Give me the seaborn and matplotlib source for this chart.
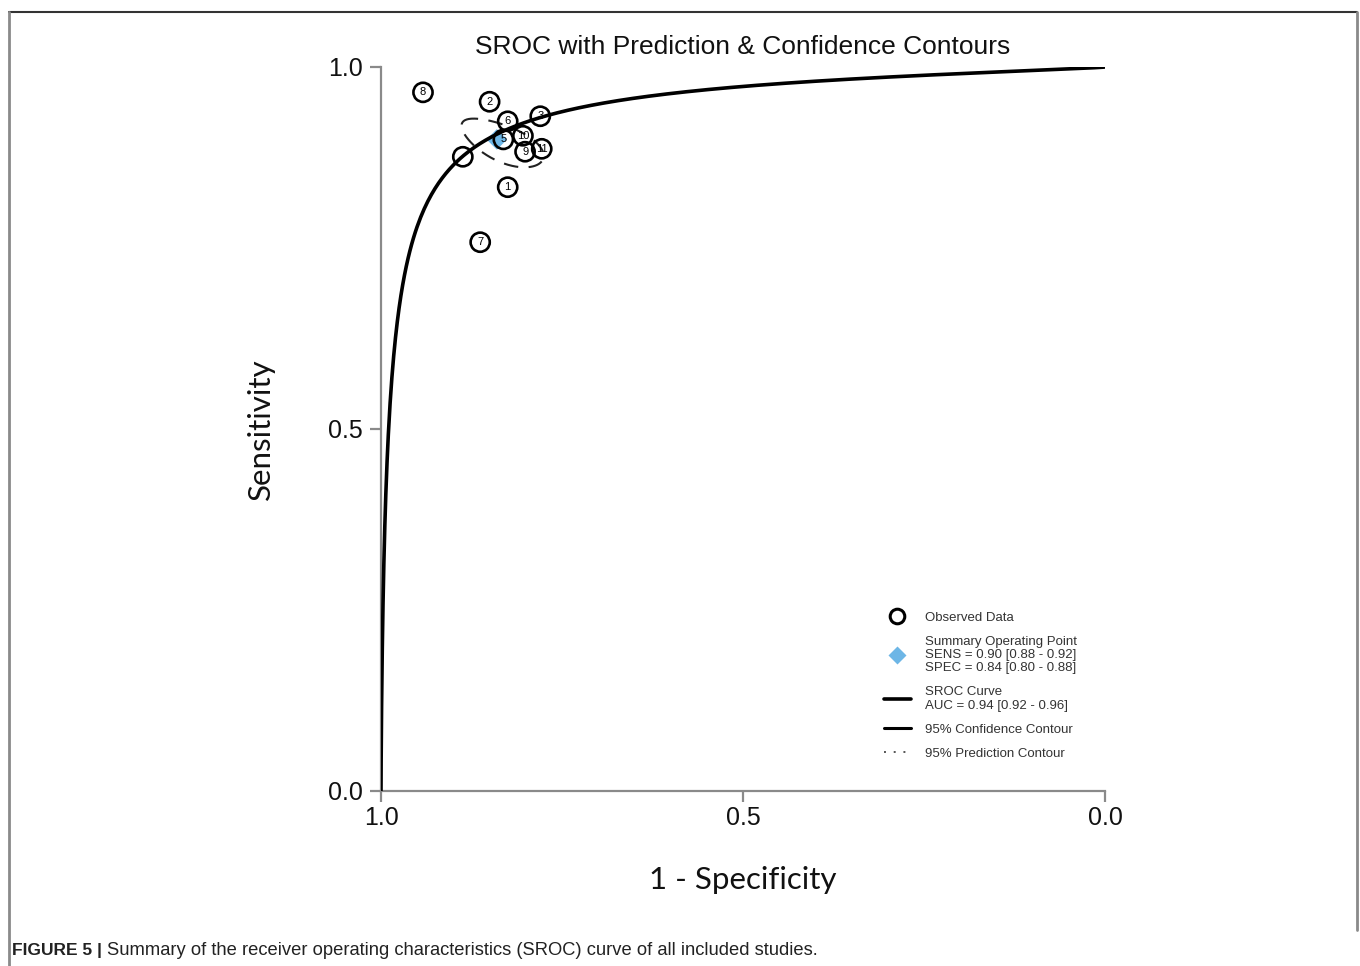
import numpy as np
import pandas as pd
import matplotlib
matplotlib.use("Agg")
import matplotlib.pyplot as plt
from matplotlib.lines import Line2D
import seaborn as sns

# Observed studies: specificity and sensitivity
study_ids = ["1", "2", "3", "", "5", "6", "7", "8", "9", "10", "11"]
specificity = [0.825, 0.850, 0.780, 0.887, 0.831, 0.825, 0.863, 0.942, 0.801, 0.804, 0.778]
sensitivity = [0.834, 0.952, 0.932, 0.876, 0.900, 0.925, 0.758, 0.965, 0.883, 0.905, 0.887]

# Summary operating point
summary_sens = 0.90
summary_spec = 0.84

# HSROC curve: logit(sens) = alpha + beta * logit(1 - spec)
sroc_alpha = 3.59
sroc_beta = 0.79

# 95% confidence region (logit scale half-widths and correlation)
conf_half_sens = 0.37
conf_half_spec = 0.42
conf_rho = 0.62

tick_values = [1.0, 0.5, 0.0]


def logit(p):
    return np.log(p / (1 - p))


def expit(z):
    return 1 / (1 + np.exp(-z))


sns.set_theme(style="white")
plt.rcParams["font.family"] = ["Liberation Sans", "DejaVu Sans"]

fig = plt.figure(figsize=(13.6, 9.66), dpi=100)
W, H = 1360, 966
ax = fig.add_axes([381 / W, 1 - 791 / H, 724 / W, 724 / H])

# SROC curve
fpr = np.concatenate([np.logspace(-7, -2, 200), np.linspace(0.0101, 0.999999, 400)])
curve = pd.DataFrame({"spec": 1 - fpr,
                      "sens": expit(sroc_alpha + sroc_beta * logit(fpr))})
curve = pd.concat([pd.DataFrame({"spec": [1.0], "sens": [0.0]}), curve,
                   pd.DataFrame({"spec": [0.0], "sens": [1.0]})], ignore_index=True)

# Confidence contour
t = np.linspace(0, 2 * np.pi, 240)
phi = np.arccos(conf_rho)
ell = pd.DataFrame({
    "spec": expit(logit(summary_spec) + conf_half_spec * np.cos(t - phi)),
    "sens": expit(logit(summary_sens) + conf_half_sens * np.cos(t)),
})
ax.plot(ell["spec"], ell["sens"], color="#222222", lw=1.5,
        dashes=(7, 5), zorder=2)

sns.scatterplot(x=[summary_spec], y=[summary_sens], marker="D", s=110,
                color="#6db6e6", edgecolor="none", ax=ax, zorder=3)

sns.lineplot(data=curve, x="spec", y="sens", sort=False, color="black",
             lw=2.6, ax=ax, zorder=4)

obs = pd.DataFrame({"spec": specificity, "sens": sensitivity, "id": study_ids})
sns.scatterplot(data=obs, x="spec", y="sens", s=190, facecolor="none",
                edgecolor="black", linewidth=1.9, ax=ax, zorder=5, clip_on=False)
for _, r in obs.iterrows():
    ax.text(r["spec"], r["sens"], r["id"], ha="center", va="center",
            fontsize=8, color="black", zorder=6)

ax.set_xlim(1.0, 0.0)
ax.set_ylim(0.0, 1.0)
ax.margins(0)
ax.set_xticks(tick_values)
ax.set_yticks(tick_values)
ax.set_xticklabels([f"{v:.1f}" for v in tick_values], fontsize=18)
ax.set_yticklabels([f"{v:.1f}" for v in tick_values], fontsize=18)
ax.tick_params(axis="both", length=8, width=1.6, color="#8a8a8a",
               direction="out", bottom=True, left=True, labelcolor="#111111")
ax.tick_params(axis="x", pad=3)
ax.tick_params(axis="y", pad=5)
for side in ["top", "right"]:
    ax.spines[side].set_visible(False)
for side in ["left", "bottom"]:
    ax.spines[side].set_color("#8a8a8a")
    ax.spines[side].set_linewidth(1.6)

ax.set_xlabel("1 - Specificity", fontsize=22.5, family=["Lato", "DejaVu Sans"],
              color="#111111")
ax.set_ylabel("Sensitivity", fontsize=22.5, family=["Lato", "DejaVu Sans"],
              color="#111111")
ax.xaxis.set_label_coords(0.5, -0.103)
ax.yaxis.set_label_coords(-0.147, 0.5)

ax.set_title("SROC with Prediction & Confidence Contours", fontsize=19,
             color="#111111", pad=9)

# Legend
handles = [
    Line2D([], [], ls="none", marker="o", ms=10.5, mfc="none", mec="black", mew=2.2),
    Line2D([], [], ls="none", marker="D", ms=9, mfc="#6db6e6", mec="none"),
    Line2D([], [], color="black", lw=2.6),
    Line2D([], [], color="black", lw=2.2),
    Line2D([], [], color="#555555", lw=1.4, ls=(0, (1, 4))),
]
labels = [
    "Observed Data",
    "Summary Operating Point\nSENS = 0.90 [0.88 - 0.92]\nSPEC = 0.84 [0.80 - 0.88]",
    "SROC Curve\nAUC = 0.94 [0.92 - 0.96]",
    "95% Confidence Contour",
    "95% Prediction Contour",
]
leg = ax.legend(handles, labels, loc="upper left",
                bbox_to_anchor=(877 / W, 1 - 605 / H),
                bbox_transform=fig.transFigure, frameon=False,
                fontsize=9.5, handlelength=2.1, handletextpad=1.05,
                labelspacing=0.9, borderpad=0)
for txt in leg.get_texts():
    txt.set_color("#333333")
    txt.set_linespacing(1.15)

# Figure frame
fig.add_artist(Line2D([9 / W, 1357 / W], [1 - 12 / H, 1 - 12 / H],
                      transform=fig.transFigure, color="#333333", lw=1.5))
fig.add_artist(Line2D([9 / W, 9 / W], [0, 1 - 12 / H],
                      transform=fig.transFigure, color="#8a8a8a", lw=2))
fig.add_artist(Line2D([1357 / W, 1357 / W], [1 - 930 / H, 1 - 12 / H],
                      transform=fig.transFigure, color="#8a8a8a", lw=2))

# Caption
cap_y = 1 - 955 / H
cap_bold = fig.text(12 / W, cap_y, "FIGURE 5 |", fontsize=12.5,
                    fontweight="bold", color="#222222", va="baseline", ha="left")
fig.canvas.draw()
bb = cap_bold.get_window_extent()
fig.text((bb.x1 + 5) / W, cap_y,
         "Summary of the receiver operating characteristics (SROC) curve of all included studies.",
         fontsize=13.2, color="#222222", va="baseline", ha="left")

fig.savefig("out.png", dpi=100)
